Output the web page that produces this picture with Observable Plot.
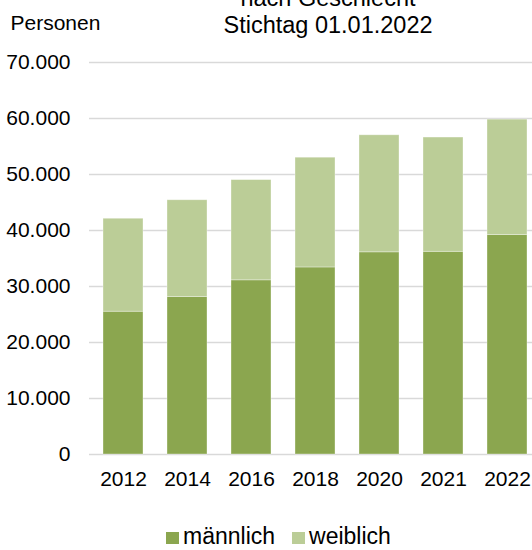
<!DOCTYPE html>
<html>
<head>
<meta charset="utf-8">
<script src="https://cdn.jsdelivr.net/npm/d3@7"></script>
<script src="https://cdn.jsdelivr.net/npm/@observablehq/plot@0.6"></script>
<style>
html, body { margin: 0; padding: 0; background: #fff; }
body { width: 532px; height: 550px; overflow: hidden; position: relative;
       font-family: "Liberation Sans", Arial, sans-serif; color: #000; }
#title { position: absolute; left: 328px; top: -15px; transform: translateX(-50%);
         text-align: center; white-space: nowrap; font-size: 23.5px; line-height: 27px; }
#ylabel { position: absolute; left: 10.5px; top: 12.5px; font-size: 21px; line-height: 20px; white-space: nowrap; }
#chart { position: absolute; left: 0; top: 45px; }
#legend { position: absolute; left: 166px; top: 525px; font-size: 23px; line-height: 23px; white-space: nowrap; }
#legend .item { display: inline-block; margin-right: 17px; }
#legend .sw { display: inline-block; width: 13px; height: 12px; vertical-align: baseline; margin-right: 4px; }
</style>
</head>
<body>
<div id="title"></div>
<div id="ylabel"></div>
<div id="chart"></div>
<div id="legend"></div>
<script>
// ---- data ----
const titleLines = ["nach Geschlecht", "Stichtag 01.01.2022"];
const yAxisTitle = "Personen";
const years = ["2012", "2014", "2016", "2018", "2020", "2021", "2022"];
const maennlich = [25500, 28100, 31100, 33400, 36100, 36200, 39200];
const weiblich = [16600, 17300, 17900, 19600, 20900, 20400, 20600];
const series = ["männlich", "weiblich"];
const seriesColors = ["#8ba64f", "#bbcd97"];
const yTicks = [0, 10000, 20000, 30000, 40000, 50000, 60000, 70000];

// ---- build ----
const values = {"männlich": maennlich, "weiblich": weiblich};
const data = years.flatMap((year, i) => series.map(s => ({year, sex: s, value: values[s][i]})));

const de = d3.formatLocale({decimal: ",", thousands: ".", grouping: [3], currency: ["", " €"]});
const fmt = de.format(",");

document.getElementById("title").innerHTML = titleLines.join("<br>");
document.getElementById("ylabel").textContent = yAxisTitle;

const plot = Plot.plot({
  width: 532,
  height: 450,
  marginTop: 17,
  marginBottom: 41,
  marginLeft: 89,
  marginRight: 0,
  style: {fontFamily: '"Liberation Sans", Arial, sans-serif', fontSize: "21px", color: "#000", background: "transparent", overflow: "visible"},
  x: {type: "band", domain: years, range: [89, 540.5], paddingInner: 0.38, paddingOuter: 0.19, label: null},
  y: {domain: [0, 70000], label: null},
  color: {domain: series, range: seriesColors},
  marks: [
    Plot.ruleY(yTicks, {stroke: "#d9d9d9", strokeWidth: 1.5}),
    Plot.barY(data, {x: "year", y: "value", fill: "sex", stroke: "#ffffff", strokeOpacity: 0.45, strokeWidth: 0.75}),
    Plot.axisY(yTicks, {tickSize: 0, tickPadding: 19, tickFormat: fmt, label: null}),
    Plot.axisX({tickSize: 0, tickPadding: 17, label: null})
  ]
});
document.getElementById("chart").appendChild(plot);

const legend = document.getElementById("legend");
series.forEach((s, i) => {
  const item = document.createElement("span");
  item.className = "item";
  const sw = document.createElement("span");
  sw.className = "sw";
  sw.style.background = seriesColors[i];
  item.appendChild(sw);
  item.appendChild(document.createTextNode(s));
  legend.appendChild(item);
});
</script>
</body>
</html>
